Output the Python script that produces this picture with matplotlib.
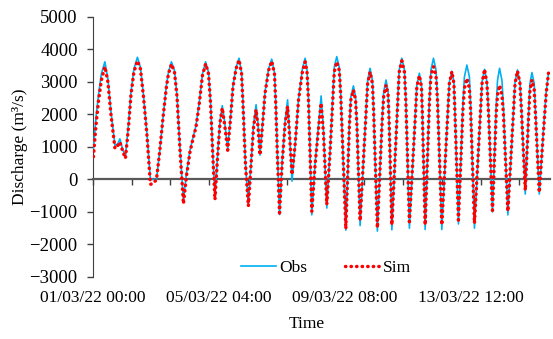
import matplotlib
matplotlib.use("Agg")
import matplotlib.pyplot as plt
import numpy as np

# time in hours since 01/03/22 00:00, discharge in m3/s
hours = [0.4, 2.4, 4.4, 6.7, 9.5, 11.9, 14.3, 17.5, 19.8, 21.4, 23.8, 25.8, 28.2, 30.2, 32.5,
         35.3, 37.7, 40.1, 42.9, 45.6, 48.0, 50.4, 52.8, 55.6, 58.3, 59.9, 62.3, 64.7, 66.7,
         69.0, 71.8, 74.2, 77.0, 79.4, 81.7, 84.1, 86.9, 89.4, 91.7, 93.3, 95.2, 96.8, 98.8,
         100.8, 102.6, 104.4, 106.9, 109.1, 111.1, 113.5, 115.9, 117.9, 119.0, 121.0, 123.3,
         125.4, 127.4, 129.4, 131.0, 132.5, 134.5, 136.5, 139.3, 141.8, 144.0, 145.0, 146.4,
         148.0, 150.0, 152.4, 154.4, 155.9, 157.9, 160.3, 163.1, 166.1, 168.3, 169.8, 170.9,
         173.6, 176.2, 179.0, 181.0, 182.9, 185.5, 188.1, 190.2, 191.4, 193.4, 195.4, 196.6,
         200.6, 203.4, 204.6, 206.6, 208.3, 209.4, 211.9, 216.7, 217.9, 219.8, 221.7, 222.6,
         225.6, 229.4, 230.6, 232.5, 234.1, 234.9, 237.1, 241.8, 242.9, 245.0, 247.1, 248.2,
         251.0, 255.8, 256.9, 258.9, 260.6, 261.3, 263.5, 266.9, 268.1, 270.1, 272.1, 273.3,
         276.7, 281.5, 282.7, 284.7, 286.3, 287.1, 289.9, 293.4, 294.6, 296.6, 298.6, 299.6,
         302.6, 307.4, 308.6, 310.6, 312.5, 313.7, 316.9, 319.8, 320.9, 322.5, 324.4, 325.6,
         329.1, 333.6, 334.8, 336.7, 338.7, 339.9, 342.9, 345.6, 346.6, 348.2, 350.0, 351.0,
         354.0, 357.1, 359.5, 361.3]

obs = [950, 1900, 2600, 3250, 3620, 3100, 2100, 1050, 1100, 1250, 900, 700, 1700, 2700, 3400,
       3760, 3450, 2600, 1400, 0, 0, 0, 800, 1900, 2900, 3300, 3620, 3350, 2600,
       1000, -650, 200, 900, 1300, 1650, 2300, 3250, 3620, 3300, 2400, 700, -550, 700,
       1800, 2270, 1800, 950, 1900, 2900, 3450, 3730, 3300, 2400, 500, -780,
       500, 1700, 2300, 1700, 750, 1700, 2700, 3400, 3700, 3300, 2400, 700,
       -1080, 500, 1800, 2450, 1500, -50, 1000, 2500, 3400, 3730, 3380, 2550,
       -1090, 500, 1700, 2570, 1500, -880, 900, 2500, 3450, 3780, 3450, 2600,
       -1560, 1700, 2550, 2880, 2550, 1700, -1420, 2200, 3050, 3420, 3050, 2200,
       -1590, 1850, 2700, 3060, 2700, 1850, -1550, 2500, 3370, 3730, 3370, 2450,
       -1500, 2050, 2900, 3270, 2900, 2050, -1540, 2500, 3370, 3730, 3370, 2500,
       -1540, 2150, 3000, 3330, 3000, 2150, -1370, 2300, 3150, 3520, 3150, 2300,
       -1500, 2150, 3000, 3390, 3000, 2150, -1000, 2250, 3050, 3420, 3050, 2250,
       -1090, 2150, 3000, 3370, 3000, 2150, -450, 2100, 2950, 3290, 2950, 2100,
       -450, 1400, 2700, 3270]

sim = [700, 1650, 2400, 3050, 3470, 3000, 2000, 950, 1050, 1150, 850, 650, 1600, 2600, 3300,
       3650, 3400, 2550, 1350, -150, -120, 0, 800, 1900, 2850, 3250, 3550, 3300, 2550,
       950, -750, 100, 850, 1250, 1600, 2250, 3200, 3560, 3250, 2350, 650, -620, 650,
       1750, 2200, 1700, 900, 1850, 2850, 3400, 3680, 3250, 2350, 450, -820,
       450, 1600, 2150, 1600, 750, 1650, 2650, 3350, 3640, 3250, 2350, 650,
       -1030, 450, 1700, 2250, 1400, 150, 1050, 2450, 3300, 3620, 3300, 2500,
       -980, 450, 1600, 2350, 1400, -770, 850, 2450, 3300, 3620, 3350, 2550,
       -1520, 1650, 2450, 2750, 2450, 1650, -1270, 2150, 2950, 3310, 2950, 2150,
       -1490, 1800, 2550, 2900, 2600, 1800, -1400, 2450, 3300, 3650, 3300, 2400,
       -1300, 2000, 2850, 3200, 2850, 2000, -1400, 2400, 3200, 3470, 3200, 2400,
       -1400, 2100, 2950, 3320, 2950, 2100, -1250, 2100, 2800, 3110, 2800, 2100,
       -1350, 2100, 2950, 3390, 2950, 2100, -950, 2000, 2600, 2900, 2600, 2000,
       -980, 2100, 2950, 3340, 2950, 2100, -330, 2000, 2750, 3060, 2750, 2000,
       -400, 1350, 2650, 3270]

label_hours = [0, 100, 200, 300]
label_text = ["01/03/22 00:00", "05/03/22 04:00", "09/03/22 08:00", "13/03/22 12:00"]

plt.rcParams["font.family"] = ["Liberation Serif", "DejaVu Serif"]
plt.rcParams["font.size"] = 12.5

fig = plt.figure(figsize=(5.53, 3.39), dpi=100)
ax = fig.add_axes([0.168, 0.183, 0.827, 0.767])

ax.plot(hours, obs, color="#00B0F0", lw=1.2, label="Obs", zorder=3)
ax.plot(hours, sim, color="red", lw=2.5, linestyle=(0, (0.1, 1.5)),
        dash_capstyle="round", label="Sim", zorder=4)

ax.set_xlim(0, 362.7)
ax.set_ylim(-3000, 5000)
ax.set_yticks(np.arange(-3000, 5001, 1000))

# x axis line drawn through zero with small tick marks
ax.spines["bottom"].set_position(("data", 0))
ax.spines["bottom"].set_color("#595959")
ax.spines["bottom"].set_linewidth(1.6)
ax.spines["left"].set_color("#404040")
ax.spines["top"].set_visible(False)
ax.spines["right"].set_visible(False)
ax.set_xticks(np.arange(0, 362, 30.74))
ax.set_xticklabels([])
ax.tick_params(axis="x", direction="out", length=4, width=1, color="#404040")
ax.tick_params(axis="y", direction="out", length=4, width=1, color="#404040",
               pad=7, labelsize=13.5)

for h, s in zip(label_hours, label_text):
    ax.text(h, -0.081, s, transform=ax.get_xaxis_transform(),
            ha="center", va="center")

ax.set_ylabel("Discharge (m³/s)")
ax.yaxis.set_label_coords(-0.142, 0.5)
ax.text(0.468, -0.18, "Time", transform=ax.transAxes, ha="center", va="center")

ax.legend(loc="center", bbox_to_anchor=(0.51, 0.035), ncol=2, frameon=False,
          handlelength=2.0, columnspacing=2.2, handletextpad=0.2)

fig.savefig("out.png", dpi=100)
